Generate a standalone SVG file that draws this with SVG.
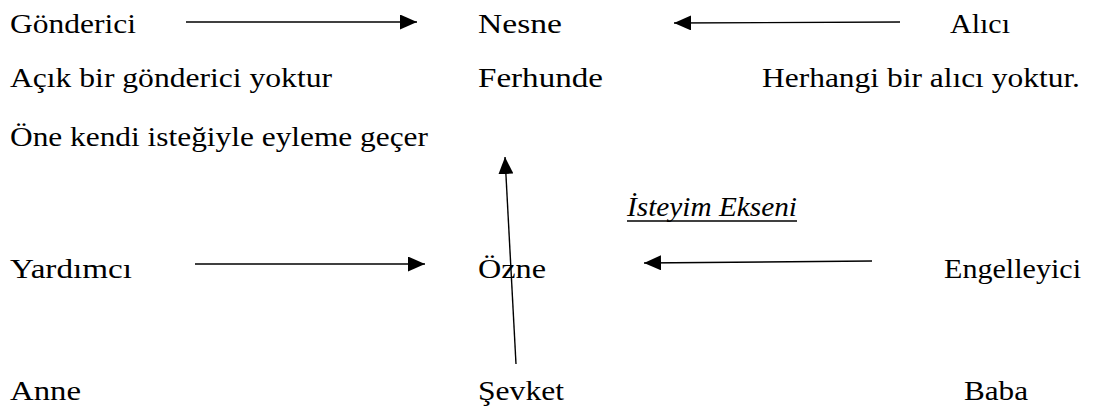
<svg xmlns="http://www.w3.org/2000/svg" width="1103" height="410" viewBox="0 0 1103 410">
  <style>
    .t { font-family: 'Liberation Serif', 'Times New Roman', Times, serif; font-size: 28px; fill: #000; }
    .it { font-style: italic; }
    .conn { stroke: #000; stroke-width: 1.4; fill: none; }
  </style>
  <defs>
    <marker id="ah" markerUnits="userSpaceOnUse" markerWidth="17" markerHeight="15" refX="17" refY="7.5" orient="auto">
      <path d="M0,0 L17,7.5 L0,15 Z" fill="#000"/>
    </marker>
  </defs>
  <rect width="1103" height="410" fill="#fff"/>

  <g id="gonderici"><text class="t" x="10" y="33" textLength="126" lengthAdjust="spacingAndGlyphs">Gönderici</text></g>
  <g id="nesne"><text class="t" x="478" y="33" textLength="84" lengthAdjust="spacingAndGlyphs">Nesne</text></g>
  <g id="alici"><text class="t" x="950" y="33" textLength="60" lengthAdjust="spacingAndGlyphs">Alıcı</text></g>

  <g id="gonderici-aciklama"><text class="t" x="10" y="87" textLength="322" lengthAdjust="spacingAndGlyphs">Açık bir gönderici yoktur</text></g>
  <g id="ferhunde"><text class="t" x="478" y="87" textLength="125" lengthAdjust="spacingAndGlyphs">Ferhunde</text></g>
  <g id="alici-aciklama"><text class="t" x="762" y="87" textLength="318" lengthAdjust="spacingAndGlyphs">Herhangi bir alıcı yoktur.</text></g>

  <g id="ozne-aciklama"><text class="t" x="10" y="146" textLength="418" lengthAdjust="spacingAndGlyphs">Öne kendi isteğiyle eyleme geçer</text></g>

  <g id="isteyim-ekseni">
    <text class="t it" x="627" y="216" textLength="170" lengthAdjust="spacingAndGlyphs">İsteyim Ekseni</text>
    <line x1="627" y1="221" x2="797" y2="221" stroke="#000" stroke-width="1.6"/>
  </g>

  <g id="yardimci"><text class="t" x="10" y="278" textLength="122" lengthAdjust="spacingAndGlyphs">Yardımcı</text></g>
  <g id="ozne"><text class="t" x="478" y="278" textLength="68" lengthAdjust="spacingAndGlyphs">Özne</text></g>
  <g id="engelleyici"><text class="t" x="944" y="278" textLength="137" lengthAdjust="spacingAndGlyphs">Engelleyici</text></g>

  <g id="anne"><text class="t" x="10" y="400" textLength="71" lengthAdjust="spacingAndGlyphs">Anne</text></g>
  <g id="sevket"><text class="t" x="478" y="400" textLength="86" lengthAdjust="spacingAndGlyphs">Şevket</text></g>
  <g id="baba"><text class="t" x="964" y="400" textLength="64" lengthAdjust="spacingAndGlyphs">Baba</text></g>

  <g id="connectors">
    <line class="conn" x1="186" y1="22" x2="417" y2="22" marker-end="url(#ah)"/>
    <line class="conn" x1="900" y1="22" x2="674" y2="23" marker-end="url(#ah)"/>
    <line class="conn" x1="516" y1="364" x2="505" y2="157" marker-end="url(#ah)"/>
    <line class="conn" x1="195" y1="264" x2="425" y2="264" marker-end="url(#ah)"/>
    <line class="conn" x1="872" y1="261" x2="644" y2="263" marker-end="url(#ah)"/>
  </g>
</svg>
